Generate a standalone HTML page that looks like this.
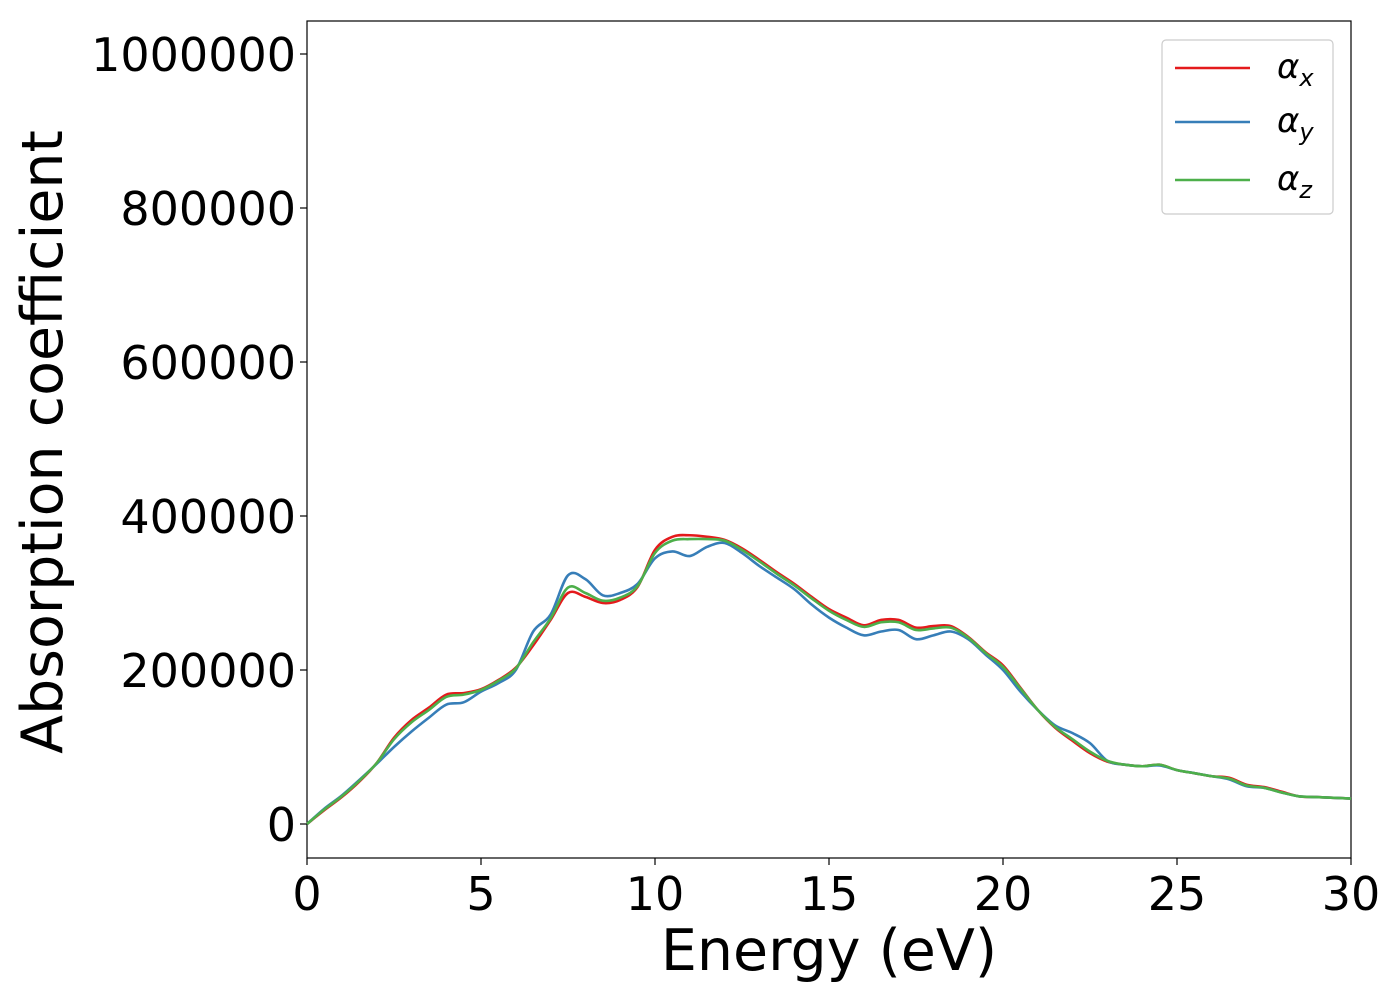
<!DOCTYPE html>
<html><head><meta charset="utf-8"><style>
body{margin:0;background:#fff;font-family:"DejaVu Sans","Liberation Sans",sans-serif}
</style></head><body>
<svg id="chart" width="1400" height="1000" xmlns="http://www.w3.org/2000/svg" font-family="DejaVu Sans, Liberation Sans, sans-serif">
<g id="plot"></g>
</svg>
<script>
const energies=[0,0.5,1,1.5,2,2.5,3,3.5,4,4.5,5,5.5,6,6.5,7,7.5,8,8.5,9,9.5,10,10.5,11,11.5,12,12.5,13,13.5,14,14.5,15,15.5,16,16.5,17,17.5,18,18.5,19,19.5,20,20.5,21,21.5,22,22.5,23,23.5,24,24.5,25,25.5,26,26.5,27,27.5,28,28.5,29,29.5,30];
const alphaX=[0,18,35,55,79,112,135,151,168,170,175,187,203,232,265,300,295,287,291,308,356,373,375,373,369,358,343,327,312,295,279,268,258,265,265,255,257,257,243,223,206,177,148,125,108,92,81,77,75,77,70,66,62,60,51,48,42,36,35,34,33];
const alphaY=[0,20,37,57,78,100,120,138,155,158,172,183,200,250,272,323,318,297,300,312,345,354,348,360,365,352,335,320,305,285,268,255,245,250,252,240,245,250,240,220,200,172,148,128,118,105,82,77,75,76,70,66,62,58,49,47,41,36,35,34,33];
const alphaZ=[0,19,36,56,79,110,132,148,165,168,174,186,202,236,267,307,300,290,294,309,352,368,370,370,368,356,341,325,310,293,277,265,256,262,262,252,254,255,242,222,204,176,148,126,110,94,82,77,75,77,70,66,62,59,50,47,41,36,35,34,33];
const xTicks=[0,5,10,15,20,25,30];
const yTicks=[0,200000,400000,600000,800000,1000000];
const L=307,R=1351,T=21,B=858;
const xS=v=>L+(v-0)/30*(R-L);
const yS=v=>824-v/200000*154;
const NS="http://www.w3.org/2000/svg";
const g=document.getElementById('plot');
function mk(t,a){const e=document.createElementNS(NS,t);for(const k in a)e.setAttribute(k,a[k]);g.appendChild(e);return e;}
const frame=mk('rect',{x:L,y:T,width:R-L,height:B-T,fill:'none',stroke:'#000','stroke-width':1.2});


xTicks.forEach(v=>{
 const t=mk('line',{x1:xS(v),x2:xS(v),y1:B,y2:B+7,stroke:'#000','stroke-width':1.2});
 
 
 const s=mk('text',{x:xS(v),y:B+52,'text-anchor':'middle','font-size':46});
 s.textContent=v;
 
 
});
yTicks.forEach(v=>{
 const t=mk('line',{x1:L-7,x2:L,y1:yS(v),y2:yS(v),stroke:'#000','stroke-width':1.2});
 
 
 const s=mk('text',{x:L-11,y:yS(v)+17,'text-anchor':'end','font-size':46});
 s.textContent=v;
 
 
});
const series=[[alphaX,'#e41a1c','series-alpha-x'],[alphaY,'#377eb8','series-alpha-y'],[alphaZ,'#4daf4a','series-alpha-z']];
series.forEach(([d,c,n])=>{
 const pts=energies.map((e,i)=>[xS(e),yS(d[i]*1000)]);
 let p='M'+pts[0][0]+','+pts[0][1];
 for(let i=0;i<pts.length-1;i++){
  const p0=pts[Math.max(0,i-1)],p1=pts[i],p2=pts[i+1],p3=pts[Math.min(pts.length-1,i+2)];
  const c1=[p1[0]+(p2[0]-p0[0])/6,p1[1]+(p2[1]-p0[1])/6],c2=[p2[0]-(p3[0]-p1[0])/6,p2[1]-(p3[1]-p1[1])/6];
  p+=' C'+c1+' '+c2+' '+p2;
 }
 const e=mk('path',{d:p,fill:'none',stroke:c,'stroke-width':2.6});
 
 
});
const xl=mk('text',{x:829,y:970,'text-anchor':'middle','font-size':57});
xl.textContent='Energy (eV)';


const yl=mk('text',{x:0,y:0,'text-anchor':'middle','font-size':57,transform:'translate(62,442) rotate(-90)'});
yl.textContent='Absorption coefficient';


const lg=mk('rect',{x:1162,y:40,width:171,height:174,rx:4,fill:'#fff',stroke:'#ccc','stroke-width':1.2});


[['x','#e41a1c',68],['y','#377eb8',122],['z','#4daf4a',180]].forEach(([s,c,y])=>{
 const l=mk('line',{x1:1175,x2:1250,y1:y,y2:y,stroke:c,'stroke-width':2.6});
 
 
 const t=mk('text',{x:1277,y:y+10,'font-size':34,'font-style':'italic'});
 t.innerHTML='α<tspan font-size="24" dy="8">'+s+'</tspan>';
 
 
});
</script>
</body></html>
